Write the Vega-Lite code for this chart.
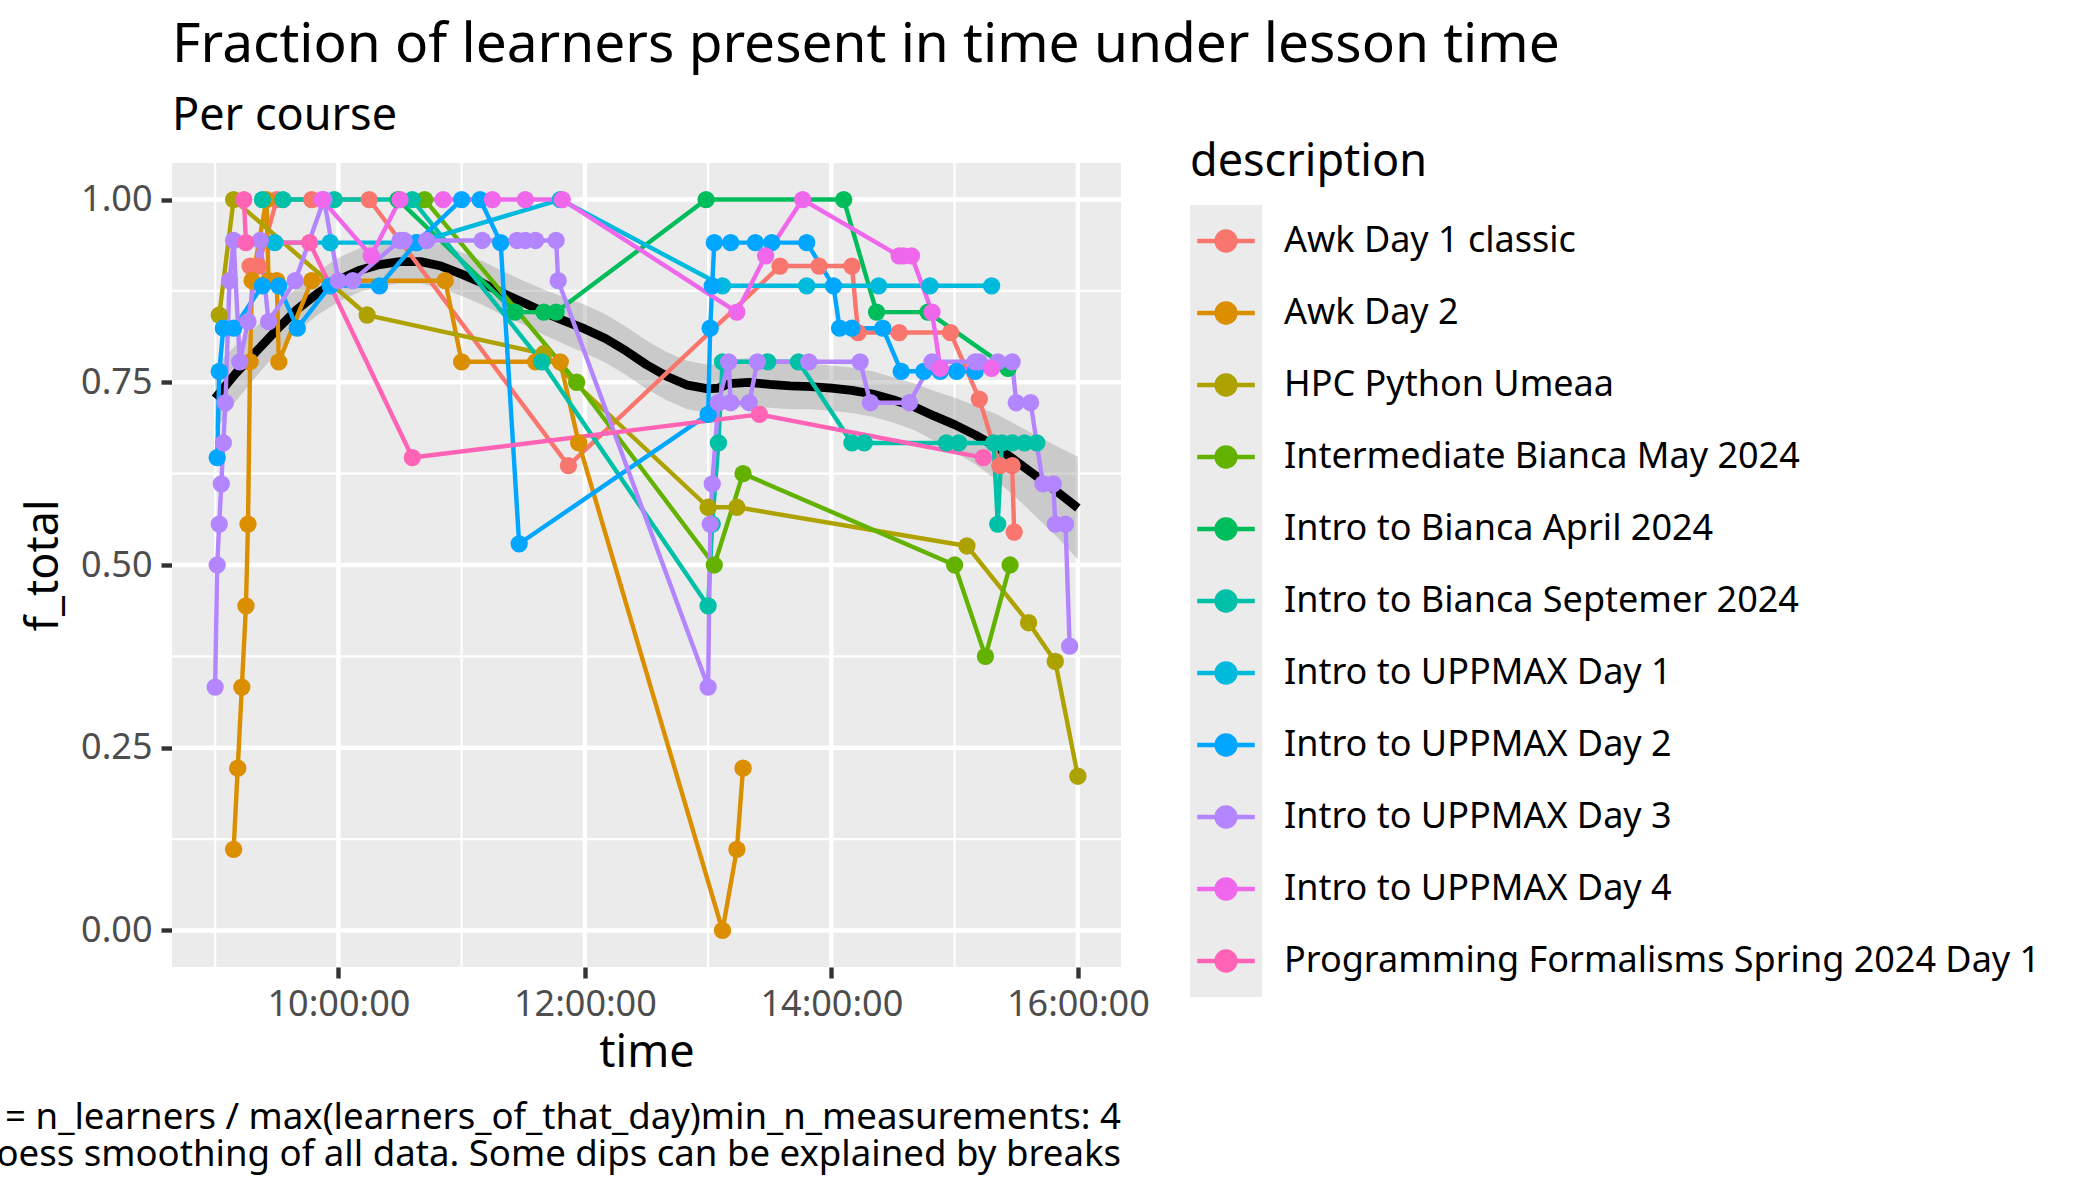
{
  "$schema": "https://vega.github.io/schema/vega-lite/v6.json",
  "width": 949,
  "height": 804,
  "autosize": {"type": "none"},
  "padding": {"left": 172, "top": 163, "right": 979, "bottom": 233},
  "background": "white",
  "title": {
    "text": "Fraction of learners present in time under lesson time",
    "subtitle": "Per course",
    "anchor": "start",
    "frame": "group",
    "font": "Noto Sans",
    "fontSize": 55,
    "fontWeight": "normal",
    "color": "black",
    "subtitleFont": "Noto Sans",
    "subtitleFontSize": 45,
    "subtitleColor": "black",
    "subtitlePadding": 20,
    "offset": 0
  },
  "config": {
    "view": {"fill": "#EBEBEB", "stroke": "transparent"},
    "font": "Noto Sans",
    "axis": {
      "titleFont": "Noto Sans", "titleFontSize": 45, "titleFontWeight": "normal", "titleColor": "black",
      "labelFont": "Noto Sans", "labelFontSize": 36, "labelColor": "#4D4D4D", "labelPadding": 9,
      "tickSize": 11, "tickWidth": 4.4, "tickColor": "#333333",
      "domain": false, "grid": false
    },
    "legend": {
      "orient": "none",
      "legendX": 1018,
      "legendY": -23,
      "direction": "vertical",
      "padding": 0,
      "titleFont": "Noto Sans",
      "titleFontSize": 45,
      "titleFontWeight": "normal",
      "titleColor": "black",
      "titlePadding": 20,
      "titleLimit": 3000,
      "labelFont": "Noto Sans",
      "labelFontSize": 36,
      "labelColor": "black",
      "labelLimit": 3000,
      "rowPadding": 0
    }
  },
  "layer": [
    {
      "data": {"values": [{}]},
      "mark": {"type": "rect", "color": "#EBEBEB"},
      "encoding": {
        "x": {"datum": {"year": 1900, "month": 1, "date": 1, "hours": 8, "minutes": 39}, "type": "temporal",
          "scale": {"domain": [{"year": 1900, "month": 1, "date": 1, "hours": 8, "minutes": 39}, {"year": 1900, "month": 1, "date": 1, "hours": 16, "minutes": 21}], "nice": false},
          "axis": {"values": [{"year": 1900, "month": 1, "date": 1, "hours": 10}, {"year": 1900, "month": 1, "date": 1, "hours": 12}, {"year": 1900, "month": 1, "date": 1, "hours": 14}, {"year": 1900, "month": 1, "date": 1, "hours": 16}], "format": "%H:%M:%S", "title": "time", "titlePadding": 8, "labelFlush": false, "labelOverlap": false}},
        "x2": {"datum": {"year": 1900, "month": 1, "date": 1, "hours": 16, "minutes": 21}},
        "y": {"datum": -0.05, "type": "quantitative",
          "scale": {"domain": [-0.05, 1.05], "nice": false, "zero": false},
          "axis": {"values": [0, 0.25, 0.5, 0.75, 1], "format": ".2f", "title": "f_total", "titlePadding": 14}},
        "y2": {"datum": 1.05}
      }
    },
    {
      "data": {"values": [{"time": "09:00"}, {"time": "11:00"}, {"time": "13:00"}, {"time": "15:00"}], "format": {"parse": {"time": "date:'%H:%M'"}}},
      "mark": {"type": "rule", "color": "white", "strokeWidth": 2.2},
      "encoding": {
        "x": {"field": "time", "type": "temporal",
          "scale": {"domain": [{"year": 1900, "month": 1, "date": 1, "hours": 8, "minutes": 39}, {"year": 1900, "month": 1, "date": 1, "hours": 16, "minutes": 21}], "nice": false},
          "axis": {"values": [{"year": 1900, "month": 1, "date": 1, "hours": 10}, {"year": 1900, "month": 1, "date": 1, "hours": 12}, {"year": 1900, "month": 1, "date": 1, "hours": 14}, {"year": 1900, "month": 1, "date": 1, "hours": 16}], "format": "%H:%M:%S", "title": "time", "titlePadding": 8, "labelFlush": false, "labelOverlap": false}}
      }
    },
    {
      "data": {"values": [{"f_total": 0.125}, {"f_total": 0.375}, {"f_total": 0.625}, {"f_total": 0.875}]},
      "mark": {"type": "rule", "color": "white", "strokeWidth": 2.2},
      "encoding": {
        "y": {"field": "f_total", "type": "quantitative",
          "scale": {"domain": [-0.05, 1.05], "nice": false, "zero": false},
          "axis": {"values": [0, 0.25, 0.5, 0.75, 1], "format": ".2f", "title": "f_total", "titlePadding": 14}}
      }
    },
    {
      "data": {"values": [{"time": "10:00"}, {"time": "12:00"}, {"time": "14:00"}, {"time": "16:00"}], "format": {"parse": {"time": "date:'%H:%M'"}}},
      "mark": {"type": "rule", "color": "white", "strokeWidth": 4.4},
      "encoding": {
        "x": {"field": "time", "type": "temporal",
          "scale": {"domain": [{"year": 1900, "month": 1, "date": 1, "hours": 8, "minutes": 39}, {"year": 1900, "month": 1, "date": 1, "hours": 16, "minutes": 21}], "nice": false},
          "axis": {"values": [{"year": 1900, "month": 1, "date": 1, "hours": 10}, {"year": 1900, "month": 1, "date": 1, "hours": 12}, {"year": 1900, "month": 1, "date": 1, "hours": 14}, {"year": 1900, "month": 1, "date": 1, "hours": 16}], "format": "%H:%M:%S", "title": "time", "titlePadding": 8, "labelFlush": false, "labelOverlap": false}}
      }
    },
    {
      "data": {"values": [{"f_total": 0}, {"f_total": 0.25}, {"f_total": 0.5}, {"f_total": 0.75}, {"f_total": 1}]},
      "mark": {"type": "rule", "color": "white", "strokeWidth": 4.4},
      "encoding": {
        "y": {"field": "f_total", "type": "quantitative",
          "scale": {"domain": [-0.05, 1.05], "nice": false, "zero": false},
          "axis": {"values": [0, 0.25, 0.5, 0.75, 1], "format": ".2f", "title": "f_total", "titlePadding": 14}}
      }
    },
    {
      "data": {
        "values": [
          {"time": "09:00", "fit": 0.728, "lower": 0.683, "upper": 0.773},
          {"time": "09:10", "fit": 0.762, "lower": 0.724, "upper": 0.800},
          {"time": "09:20", "fit": 0.792, "lower": 0.758, "upper": 0.826},
          {"time": "09:30", "fit": 0.822, "lower": 0.791, "upper": 0.853},
          {"time": "09:40", "fit": 0.850, "lower": 0.820, "upper": 0.880},
          {"time": "09:50", "fit": 0.872, "lower": 0.842, "upper": 0.902},
          {"time": "10:00", "fit": 0.890, "lower": 0.860, "upper": 0.920},
          {"time": "10:10", "fit": 0.903, "lower": 0.873, "upper": 0.933},
          {"time": "10:20", "fit": 0.911, "lower": 0.881, "upper": 0.941},
          {"time": "10:30", "fit": 0.915, "lower": 0.885, "upper": 0.945},
          {"time": "10:40", "fit": 0.915, "lower": 0.885, "upper": 0.945},
          {"time": "10:50", "fit": 0.909, "lower": 0.879, "upper": 0.939},
          {"time": "11:00", "fit": 0.898, "lower": 0.868, "upper": 0.928},
          {"time": "11:10", "fit": 0.886, "lower": 0.856, "upper": 0.916},
          {"time": "11:20", "fit": 0.872, "lower": 0.842, "upper": 0.902},
          {"time": "11:30", "fit": 0.859, "lower": 0.829, "upper": 0.889},
          {"time": "11:40", "fit": 0.846, "lower": 0.815, "upper": 0.877},
          {"time": "11:50", "fit": 0.834, "lower": 0.802, "upper": 0.866},
          {"time": "12:00", "fit": 0.823, "lower": 0.790, "upper": 0.856},
          {"time": "12:10", "fit": 0.810, "lower": 0.777, "upper": 0.843},
          {"time": "12:20", "fit": 0.793, "lower": 0.760, "upper": 0.826},
          {"time": "12:30", "fit": 0.774, "lower": 0.741, "upper": 0.807},
          {"time": "12:40", "fit": 0.758, "lower": 0.725, "upper": 0.791},
          {"time": "12:50", "fit": 0.746, "lower": 0.713, "upper": 0.779},
          {"time": "13:00", "fit": 0.741, "lower": 0.708, "upper": 0.774},
          {"time": "13:05", "fit": 0.742, "lower": 0.709, "upper": 0.775},
          {"time": "13:10", "fit": 0.748, "lower": 0.715, "upper": 0.781},
          {"time": "13:20", "fit": 0.750, "lower": 0.717, "upper": 0.783},
          {"time": "13:30", "fit": 0.747, "lower": 0.715, "upper": 0.779},
          {"time": "13:40", "fit": 0.745, "lower": 0.713, "upper": 0.777},
          {"time": "13:50", "fit": 0.744, "lower": 0.713, "upper": 0.775},
          {"time": "14:00", "fit": 0.742, "lower": 0.711, "upper": 0.773},
          {"time": "14:10", "fit": 0.739, "lower": 0.708, "upper": 0.770},
          {"time": "14:20", "fit": 0.734, "lower": 0.703, "upper": 0.765},
          {"time": "14:30", "fit": 0.726, "lower": 0.695, "upper": 0.757},
          {"time": "14:40", "fit": 0.717, "lower": 0.685, "upper": 0.749},
          {"time": "14:50", "fit": 0.704, "lower": 0.670, "upper": 0.738},
          {"time": "15:00", "fit": 0.692, "lower": 0.655, "upper": 0.729},
          {"time": "15:10", "fit": 0.678, "lower": 0.638, "upper": 0.718},
          {"time": "15:20", "fit": 0.662, "lower": 0.617, "upper": 0.707},
          {"time": "15:30", "fit": 0.642, "lower": 0.592, "upper": 0.692},
          {"time": "15:40", "fit": 0.621, "lower": 0.565, "upper": 0.677},
          {"time": "15:50", "fit": 0.600, "lower": 0.538, "upper": 0.662},
          {"time": "16:00", "fit": 0.578, "lower": 0.508, "upper": 0.648}
        ],
        "format": {"parse": {"time": "date:'%H:%M'"}}
      },
      "layer": [
        {
          "mark": {"type": "area", "color": "#999999", "opacity": 0.4},
          "encoding": {
            "x": {"field": "time", "type": "temporal",
              "scale": {"domain": [{"year": 1900, "month": 1, "date": 1, "hours": 8, "minutes": 39}, {"year": 1900, "month": 1, "date": 1, "hours": 16, "minutes": 21}], "nice": false},
              "axis": {"values": [{"year": 1900, "month": 1, "date": 1, "hours": 10}, {"year": 1900, "month": 1, "date": 1, "hours": 12}, {"year": 1900, "month": 1, "date": 1, "hours": 14}, {"year": 1900, "month": 1, "date": 1, "hours": 16}], "format": "%H:%M:%S", "title": "time", "titlePadding": 8, "labelFlush": false, "labelOverlap": false}},
            "y": {"field": "lower", "type": "quantitative",
              "scale": {"domain": [-0.05, 1.05], "nice": false, "zero": false},
              "axis": {"values": [0, 0.25, 0.5, 0.75, 1], "format": ".2f", "title": "f_total", "titlePadding": 14}},
            "y2": {"field": "upper"}
          }
        },
        {
          "mark": {"type": "line", "color": "black", "strokeWidth": 8.8, "strokeJoin": "round"},
          "encoding": {
            "x": {"field": "time", "type": "temporal",
              "scale": {"domain": [{"year": 1900, "month": 1, "date": 1, "hours": 8, "minutes": 39}, {"year": 1900, "month": 1, "date": 1, "hours": 16, "minutes": 21}], "nice": false},
              "axis": {"values": [{"year": 1900, "month": 1, "date": 1, "hours": 10}, {"year": 1900, "month": 1, "date": 1, "hours": 12}, {"year": 1900, "month": 1, "date": 1, "hours": 14}, {"year": 1900, "month": 1, "date": 1, "hours": 16}], "format": "%H:%M:%S", "title": "time", "titlePadding": 8, "labelFlush": false, "labelOverlap": false}},
            "y": {"field": "fit", "type": "quantitative",
              "scale": {"domain": [-0.05, 1.05], "nice": false, "zero": false},
              "axis": {"values": [0, 0.25, 0.5, 0.75, 1], "format": ".2f", "title": "f_total", "titlePadding": 14}}
          }
        }
      ]
    },
    {
      "data": {
        "values": [
          {"description": "Awk Day 1 classic", "time": "09:17", "f_total": 0.909},
          {"description": "Awk Day 1 classic", "time": "09:21", "f_total": 0.909},
          {"description": "Awk Day 1 classic", "time": "09:30", "f_total": 1},
          {"description": "Awk Day 1 classic", "time": "09:47", "f_total": 1},
          {"description": "Awk Day 1 classic", "time": "10:15", "f_total": 1},
          {"description": "Awk Day 1 classic", "time": "11:52", "f_total": 0.636},
          {"description": "Awk Day 1 classic", "time": "13:35", "f_total": 0.909},
          {"description": "Awk Day 1 classic", "time": "13:54", "f_total": 0.909},
          {"description": "Awk Day 1 classic", "time": "14:10", "f_total": 0.909},
          {"description": "Awk Day 1 classic", "time": "14:13", "f_total": 0.818},
          {"description": "Awk Day 1 classic", "time": "14:33", "f_total": 0.818},
          {"description": "Awk Day 1 classic", "time": "14:58", "f_total": 0.818},
          {"description": "Awk Day 1 classic", "time": "15:12", "f_total": 0.727},
          {"description": "Awk Day 1 classic", "time": "15:22", "f_total": 0.636},
          {"description": "Awk Day 1 classic", "time": "15:28", "f_total": 0.636},
          {"description": "Awk Day 1 classic", "time": "15:29", "f_total": 0.545},
          {"description": "Awk Day 2", "time": "09:09", "f_total": 0.111},
          {"description": "Awk Day 2", "time": "09:11", "f_total": 0.222},
          {"description": "Awk Day 2", "time": "09:13", "f_total": 0.333},
          {"description": "Awk Day 2", "time": "09:15", "f_total": 0.444},
          {"description": "Awk Day 2", "time": "09:16", "f_total": 0.556},
          {"description": "Awk Day 2", "time": "09:17", "f_total": 0.778},
          {"description": "Awk Day 2", "time": "09:18", "f_total": 0.889},
          {"description": "Awk Day 2", "time": "09:25", "f_total": 1},
          {"description": "Awk Day 2", "time": "09:26", "f_total": 0.889},
          {"description": "Awk Day 2", "time": "09:30", "f_total": 0.889},
          {"description": "Awk Day 2", "time": "09:31", "f_total": 0.778},
          {"description": "Awk Day 2", "time": "09:47", "f_total": 0.889},
          {"description": "Awk Day 2", "time": "10:52", "f_total": 0.889},
          {"description": "Awk Day 2", "time": "11:00", "f_total": 0.778},
          {"description": "Awk Day 2", "time": "11:36", "f_total": 0.778},
          {"description": "Awk Day 2", "time": "11:48", "f_total": 0.778},
          {"description": "Awk Day 2", "time": "11:57", "f_total": 0.667},
          {"description": "Awk Day 2", "time": "13:07", "f_total": 0},
          {"description": "Awk Day 2", "time": "13:14", "f_total": 0.111},
          {"description": "Awk Day 2", "time": "13:17", "f_total": 0.222},
          {"description": "HPC Python Umeaa", "time": "09:02", "f_total": 0.842},
          {"description": "HPC Python Umeaa", "time": "09:09", "f_total": 1},
          {"description": "HPC Python Umeaa", "time": "10:14", "f_total": 0.842},
          {"description": "HPC Python Umeaa", "time": "11:40", "f_total": 0.789},
          {"description": "HPC Python Umeaa", "time": "13:00", "f_total": 0.579},
          {"description": "HPC Python Umeaa", "time": "13:14", "f_total": 0.579},
          {"description": "HPC Python Umeaa", "time": "15:06", "f_total": 0.526},
          {"description": "HPC Python Umeaa", "time": "15:36", "f_total": 0.421},
          {"description": "HPC Python Umeaa", "time": "15:49", "f_total": 0.368},
          {"description": "HPC Python Umeaa", "time": "16:00", "f_total": 0.211},
          {"description": "Intermediate Bianca May 2024", "time": "10:42", "f_total": 1},
          {"description": "Intermediate Bianca May 2024", "time": "11:56", "f_total": 0.75},
          {"description": "Intermediate Bianca May 2024", "time": "13:03", "f_total": 0.5},
          {"description": "Intermediate Bianca May 2024", "time": "13:17", "f_total": 0.625},
          {"description": "Intermediate Bianca May 2024", "time": "15:00", "f_total": 0.5},
          {"description": "Intermediate Bianca May 2024", "time": "15:15", "f_total": 0.375},
          {"description": "Intermediate Bianca May 2024", "time": "15:27", "f_total": 0.5},
          {"description": "Intro to Bianca April 2024", "time": "10:29", "f_total": 1},
          {"description": "Intro to Bianca April 2024", "time": "11:26", "f_total": 0.846},
          {"description": "Intro to Bianca April 2024", "time": "11:40", "f_total": 0.846},
          {"description": "Intro to Bianca April 2024", "time": "11:46", "f_total": 0.846},
          {"description": "Intro to Bianca April 2024", "time": "12:59", "f_total": 1},
          {"description": "Intro to Bianca April 2024", "time": "14:06", "f_total": 1},
          {"description": "Intro to Bianca April 2024", "time": "14:22", "f_total": 0.846},
          {"description": "Intro to Bianca April 2024", "time": "14:47", "f_total": 0.846},
          {"description": "Intro to Bianca April 2024", "time": "15:26", "f_total": 0.769},
          {"description": "Intro to Bianca Septemer 2024", "time": "09:23", "f_total": 1},
          {"description": "Intro to Bianca Septemer 2024", "time": "09:33", "f_total": 1},
          {"description": "Intro to Bianca Septemer 2024", "time": "09:58", "f_total": 1},
          {"description": "Intro to Bianca Septemer 2024", "time": "10:36", "f_total": 1},
          {"description": "Intro to Bianca Septemer 2024", "time": "11:39", "f_total": 0.778},
          {"description": "Intro to Bianca Septemer 2024", "time": "13:00", "f_total": 0.444},
          {"description": "Intro to Bianca Septemer 2024", "time": "13:02", "f_total": 0.556},
          {"description": "Intro to Bianca Septemer 2024", "time": "13:05", "f_total": 0.667},
          {"description": "Intro to Bianca Septemer 2024", "time": "13:07", "f_total": 0.778},
          {"description": "Intro to Bianca Septemer 2024", "time": "13:29", "f_total": 0.778},
          {"description": "Intro to Bianca Septemer 2024", "time": "13:44", "f_total": 0.778},
          {"description": "Intro to Bianca Septemer 2024", "time": "14:10", "f_total": 0.667},
          {"description": "Intro to Bianca Septemer 2024", "time": "14:16", "f_total": 0.667},
          {"description": "Intro to Bianca Septemer 2024", "time": "14:56", "f_total": 0.667},
          {"description": "Intro to Bianca Septemer 2024", "time": "15:02", "f_total": 0.667},
          {"description": "Intro to Bianca Septemer 2024", "time": "15:19", "f_total": 0.667},
          {"description": "Intro to Bianca Septemer 2024", "time": "15:21", "f_total": 0.556},
          {"description": "Intro to Bianca Septemer 2024", "time": "15:23", "f_total": 0.667},
          {"description": "Intro to Bianca Septemer 2024", "time": "15:28", "f_total": 0.667},
          {"description": "Intro to Bianca Septemer 2024", "time": "15:34", "f_total": 0.667},
          {"description": "Intro to Bianca Septemer 2024", "time": "15:40", "f_total": 0.667},
          {"description": "Intro to UPPMAX Day 1", "time": "09:29", "f_total": 0.941},
          {"description": "Intro to UPPMAX Day 1", "time": "09:56", "f_total": 0.941},
          {"description": "Intro to UPPMAX Day 1", "time": "10:38", "f_total": 0.941},
          {"description": "Intro to UPPMAX Day 1", "time": "11:48", "f_total": 1},
          {"description": "Intro to UPPMAX Day 1", "time": "13:07", "f_total": 0.882},
          {"description": "Intro to UPPMAX Day 1", "time": "13:48", "f_total": 0.882},
          {"description": "Intro to UPPMAX Day 1", "time": "14:23", "f_total": 0.882},
          {"description": "Intro to UPPMAX Day 1", "time": "14:48", "f_total": 0.882},
          {"description": "Intro to UPPMAX Day 1", "time": "15:18", "f_total": 0.882},
          {"description": "Intro to UPPMAX Day 2", "time": "09:01", "f_total": 0.647},
          {"description": "Intro to UPPMAX Day 2", "time": "09:02", "f_total": 0.765},
          {"description": "Intro to UPPMAX Day 2", "time": "09:04", "f_total": 0.824},
          {"description": "Intro to UPPMAX Day 2", "time": "09:09", "f_total": 0.824},
          {"description": "Intro to UPPMAX Day 2", "time": "09:23", "f_total": 0.882},
          {"description": "Intro to UPPMAX Day 2", "time": "09:31", "f_total": 0.882},
          {"description": "Intro to UPPMAX Day 2", "time": "09:40", "f_total": 0.824},
          {"description": "Intro to UPPMAX Day 2", "time": "09:56", "f_total": 0.882},
          {"description": "Intro to UPPMAX Day 2", "time": "10:20", "f_total": 0.882},
          {"description": "Intro to UPPMAX Day 2", "time": "10:38", "f_total": 0.941},
          {"description": "Intro to UPPMAX Day 2", "time": "11:00", "f_total": 1},
          {"description": "Intro to UPPMAX Day 2", "time": "11:09", "f_total": 1},
          {"description": "Intro to UPPMAX Day 2", "time": "11:19", "f_total": 0.941},
          {"description": "Intro to UPPMAX Day 2", "time": "11:28", "f_total": 0.529},
          {"description": "Intro to UPPMAX Day 2", "time": "13:00", "f_total": 0.706},
          {"description": "Intro to UPPMAX Day 2", "time": "13:01", "f_total": 0.824},
          {"description": "Intro to UPPMAX Day 2", "time": "13:02", "f_total": 0.882},
          {"description": "Intro to UPPMAX Day 2", "time": "13:03", "f_total": 0.941},
          {"description": "Intro to UPPMAX Day 2", "time": "13:11", "f_total": 0.941},
          {"description": "Intro to UPPMAX Day 2", "time": "13:23", "f_total": 0.941},
          {"description": "Intro to UPPMAX Day 2", "time": "13:31", "f_total": 0.941},
          {"description": "Intro to UPPMAX Day 2", "time": "13:48", "f_total": 0.941},
          {"description": "Intro to UPPMAX Day 2", "time": "14:01", "f_total": 0.882},
          {"description": "Intro to UPPMAX Day 2", "time": "14:04", "f_total": 0.824},
          {"description": "Intro to UPPMAX Day 2", "time": "14:10", "f_total": 0.824},
          {"description": "Intro to UPPMAX Day 2", "time": "14:25", "f_total": 0.824},
          {"description": "Intro to UPPMAX Day 2", "time": "14:34", "f_total": 0.765},
          {"description": "Intro to UPPMAX Day 2", "time": "14:45", "f_total": 0.765},
          {"description": "Intro to UPPMAX Day 2", "time": "14:53", "f_total": 0.765},
          {"description": "Intro to UPPMAX Day 2", "time": "15:01", "f_total": 0.765},
          {"description": "Intro to UPPMAX Day 2", "time": "15:10", "f_total": 0.765},
          {"description": "Intro to UPPMAX Day 3", "time": "09:00", "f_total": 0.333},
          {"description": "Intro to UPPMAX Day 3", "time": "09:01", "f_total": 0.5},
          {"description": "Intro to UPPMAX Day 3", "time": "09:02", "f_total": 0.556},
          {"description": "Intro to UPPMAX Day 3", "time": "09:03", "f_total": 0.611},
          {"description": "Intro to UPPMAX Day 3", "time": "09:04", "f_total": 0.667},
          {"description": "Intro to UPPMAX Day 3", "time": "09:05", "f_total": 0.722},
          {"description": "Intro to UPPMAX Day 3", "time": "09:07", "f_total": 0.889},
          {"description": "Intro to UPPMAX Day 3", "time": "09:09", "f_total": 0.944},
          {"description": "Intro to UPPMAX Day 3", "time": "09:12", "f_total": 0.778},
          {"description": "Intro to UPPMAX Day 3", "time": "09:16", "f_total": 0.833},
          {"description": "Intro to UPPMAX Day 3", "time": "09:22", "f_total": 0.944},
          {"description": "Intro to UPPMAX Day 3", "time": "09:26", "f_total": 0.833},
          {"description": "Intro to UPPMAX Day 3", "time": "09:39", "f_total": 0.889},
          {"description": "Intro to UPPMAX Day 3", "time": "09:53", "f_total": 1},
          {"description": "Intro to UPPMAX Day 3", "time": "10:00", "f_total": 0.889},
          {"description": "Intro to UPPMAX Day 3", "time": "10:07", "f_total": 0.889},
          {"description": "Intro to UPPMAX Day 3", "time": "10:30", "f_total": 0.944},
          {"description": "Intro to UPPMAX Day 3", "time": "10:32", "f_total": 0.944},
          {"description": "Intro to UPPMAX Day 3", "time": "10:43", "f_total": 0.944},
          {"description": "Intro to UPPMAX Day 3", "time": "11:10", "f_total": 0.944},
          {"description": "Intro to UPPMAX Day 3", "time": "11:27", "f_total": 0.944},
          {"description": "Intro to UPPMAX Day 3", "time": "11:31", "f_total": 0.944},
          {"description": "Intro to UPPMAX Day 3", "time": "11:36", "f_total": 0.944},
          {"description": "Intro to UPPMAX Day 3", "time": "11:46", "f_total": 0.944},
          {"description": "Intro to UPPMAX Day 3", "time": "11:47", "f_total": 0.889},
          {"description": "Intro to UPPMAX Day 3", "time": "13:00", "f_total": 0.333},
          {"description": "Intro to UPPMAX Day 3", "time": "13:01", "f_total": 0.556},
          {"description": "Intro to UPPMAX Day 3", "time": "13:02", "f_total": 0.611},
          {"description": "Intro to UPPMAX Day 3", "time": "13:05", "f_total": 0.722},
          {"description": "Intro to UPPMAX Day 3", "time": "13:10", "f_total": 0.778},
          {"description": "Intro to UPPMAX Day 3", "time": "13:11", "f_total": 0.722},
          {"description": "Intro to UPPMAX Day 3", "time": "13:20", "f_total": 0.722},
          {"description": "Intro to UPPMAX Day 3", "time": "13:24", "f_total": 0.778},
          {"description": "Intro to UPPMAX Day 3", "time": "13:49", "f_total": 0.778},
          {"description": "Intro to UPPMAX Day 3", "time": "14:14", "f_total": 0.778},
          {"description": "Intro to UPPMAX Day 3", "time": "14:19", "f_total": 0.722},
          {"description": "Intro to UPPMAX Day 3", "time": "14:38", "f_total": 0.722},
          {"description": "Intro to UPPMAX Day 3", "time": "14:49", "f_total": 0.778},
          {"description": "Intro to UPPMAX Day 3", "time": "15:10", "f_total": 0.778},
          {"description": "Intro to UPPMAX Day 3", "time": "15:12", "f_total": 0.778},
          {"description": "Intro to UPPMAX Day 3", "time": "15:21", "f_total": 0.778},
          {"description": "Intro to UPPMAX Day 3", "time": "15:28", "f_total": 0.778},
          {"description": "Intro to UPPMAX Day 3", "time": "15:30", "f_total": 0.722},
          {"description": "Intro to UPPMAX Day 3", "time": "15:37", "f_total": 0.722},
          {"description": "Intro to UPPMAX Day 3", "time": "15:43", "f_total": 0.611},
          {"description": "Intro to UPPMAX Day 3", "time": "15:48", "f_total": 0.611},
          {"description": "Intro to UPPMAX Day 3", "time": "15:49", "f_total": 0.556},
          {"description": "Intro to UPPMAX Day 3", "time": "15:54", "f_total": 0.556},
          {"description": "Intro to UPPMAX Day 3", "time": "15:56", "f_total": 0.389},
          {"description": "Intro to UPPMAX Day 4", "time": "09:52", "f_total": 1},
          {"description": "Intro to UPPMAX Day 4", "time": "10:16", "f_total": 0.923},
          {"description": "Intro to UPPMAX Day 4", "time": "10:30", "f_total": 1},
          {"description": "Intro to UPPMAX Day 4", "time": "10:51", "f_total": 1},
          {"description": "Intro to UPPMAX Day 4", "time": "11:15", "f_total": 1},
          {"description": "Intro to UPPMAX Day 4", "time": "11:31", "f_total": 1},
          {"description": "Intro to UPPMAX Day 4", "time": "11:49", "f_total": 1},
          {"description": "Intro to UPPMAX Day 4", "time": "13:14", "f_total": 0.846},
          {"description": "Intro to UPPMAX Day 4", "time": "13:28", "f_total": 0.923},
          {"description": "Intro to UPPMAX Day 4", "time": "13:46", "f_total": 1},
          {"description": "Intro to UPPMAX Day 4", "time": "14:33", "f_total": 0.923},
          {"description": "Intro to UPPMAX Day 4", "time": "14:35", "f_total": 0.923},
          {"description": "Intro to UPPMAX Day 4", "time": "14:39", "f_total": 0.923},
          {"description": "Intro to UPPMAX Day 4", "time": "14:49", "f_total": 0.846},
          {"description": "Intro to UPPMAX Day 4", "time": "14:53", "f_total": 0.769},
          {"description": "Intro to UPPMAX Day 4", "time": "15:18", "f_total": 0.769},
          {"description": "Programming Formalisms Spring 2024 Day 1", "time": "09:14", "f_total": 1},
          {"description": "Programming Formalisms Spring 2024 Day 1", "time": "09:15", "f_total": 0.941},
          {"description": "Programming Formalisms Spring 2024 Day 1", "time": "09:46", "f_total": 0.941},
          {"description": "Programming Formalisms Spring 2024 Day 1", "time": "10:36", "f_total": 0.647},
          {"description": "Programming Formalisms Spring 2024 Day 1", "time": "13:25", "f_total": 0.706},
          {"description": "Programming Formalisms Spring 2024 Day 1", "time": "15:14", "f_total": 0.647}
        ],
        "format": {"parse": {"time": "date:'%H:%M'"}}
      },
      "layer": [
        {
          "mark": {"type": "line", "strokeWidth": 4.4, "strokeJoin": "round", "strokeCap": "butt"},
          "encoding": {
            "x": {"field": "time", "type": "temporal",
              "scale": {"domain": [{"year": 1900, "month": 1, "date": 1, "hours": 8, "minutes": 39}, {"year": 1900, "month": 1, "date": 1, "hours": 16, "minutes": 21}], "nice": false},
              "axis": {"values": [{"year": 1900, "month": 1, "date": 1, "hours": 10}, {"year": 1900, "month": 1, "date": 1, "hours": 12}, {"year": 1900, "month": 1, "date": 1, "hours": 14}, {"year": 1900, "month": 1, "date": 1, "hours": 16}], "format": "%H:%M:%S", "title": "time", "titlePadding": 8, "labelFlush": false, "labelOverlap": false}},
            "y": {"field": "f_total", "type": "quantitative",
              "scale": {"domain": [-0.05, 1.05], "nice": false, "zero": false},
              "axis": {"values": [0, 0.25, 0.5, 0.75, 1], "format": ".2f", "title": "f_total", "titlePadding": 14}},
            "color": {
              "field": "description", "type": "nominal",
              "scale": {
                "domain": ["Awk Day 1 classic", "Awk Day 2", "HPC Python Umeaa", "Intermediate Bianca May 2024", "Intro to Bianca April 2024", "Intro to Bianca Septemer 2024", "Intro to UPPMAX Day 1", "Intro to UPPMAX Day 2", "Intro to UPPMAX Day 3", "Intro to UPPMAX Day 4", "Programming Formalisms Spring 2024 Day 1"],
                "range": ["#F8766D", "#DB8E00", "#AEA200", "#64B200", "#00BD5C", "#00C1A7", "#00BADE", "#00A6FF", "#B385FF", "#EF67EB", "#FF63B6"]
              },
              "legend": {
                "title": "description",
                "zindex": 1,
                "labelOffset": 22,
                "symbolType": "M0,-0.793M0,0.793M-0.852,0H0.852M-0.28,0A0.28,0.28,0,1,0,0.28,0A0.28,0.28,0,1,0,-0.28,0Z",
                "symbolSize": 4563,
                "symbolStrokeWidth": 4.4
              }
            }
          }
        },
        {
          "mark": {"type": "point", "filled": true, "size": 300, "opacity": 1, "strokeWidth": 0},
          "encoding": {
            "x": {"field": "time", "type": "temporal",
              "scale": {"domain": [{"year": 1900, "month": 1, "date": 1, "hours": 8, "minutes": 39}, {"year": 1900, "month": 1, "date": 1, "hours": 16, "minutes": 21}], "nice": false},
              "axis": {"values": [{"year": 1900, "month": 1, "date": 1, "hours": 10}, {"year": 1900, "month": 1, "date": 1, "hours": 12}, {"year": 1900, "month": 1, "date": 1, "hours": 14}, {"year": 1900, "month": 1, "date": 1, "hours": 16}], "format": "%H:%M:%S", "title": "time", "titlePadding": 8, "labelFlush": false, "labelOverlap": false}},
            "y": {"field": "f_total", "type": "quantitative",
              "scale": {"domain": [-0.05, 1.05], "nice": false, "zero": false},
              "axis": {"values": [0, 0.25, 0.5, 0.75, 1], "format": ".2f", "title": "f_total", "titlePadding": 14}},
            "color": {
              "field": "description", "type": "nominal",
              "legend": {
                "title": "description",
                "zindex": 1,
                "labelOffset": 22,
                "symbolType": "M0,-0.793M0,0.793M-0.852,0H0.852M-0.28,0A0.28,0.28,0,1,0,0.28,0A0.28,0.28,0,1,0,-0.28,0Z",
                "symbolSize": 4563,
                "symbolStrokeWidth": 4.4
              }
            }
          }
        }
      ]
    },
    {
      "data": {
        "values": [
          {"course": "Awk Day 1 classic"}, {"course": "Awk Day 2"}, {"course": "HPC Python Umeaa"}, {"course": "Intermediate Bianca May 2024"}, {"course": "Intro to Bianca April 2024"}, {"course": "Intro to Bianca Septemer 2024"}, {"course": "Intro to UPPMAX Day 1"}, {"course": "Intro to UPPMAX Day 2"}, {"course": "Intro to UPPMAX Day 3"}, {"course": "Intro to UPPMAX Day 4"}, {"course": "Programming Formalisms Spring 2024 Day 1"}
        ]
      },
      "mark": {"type": "point", "filled": true, "opacity": 0, "color": "#EBEBEB"},
      "encoding": {
        "shape": {
          "field": "course", "type": "nominal",
          "scale": {"range": ["square"]},
          "legend": {
            "title": "description",
            "titleOpacity": 0,
            "labelOpacity": 0,
            "zindex": 0,
            "symbolType": "square",
            "symbolSize": 5184,
            "symbolStrokeWidth": 0,
            "symbolOpacity": 1
          }
        }
      }
    },
    {
      "data": {"values": [{}]},
      "mark": {
        "type": "text",
        "text": ["f_total = n_learners / max(learners_of_that_day)min_n_measurements: 4", "Black line: loess smoothing of all data. Some dips can be explained by breaks"],
        "align": "right",
        "baseline": "alphabetic",
        "dy": 162,
        "lineHeight": 37,
        "font": "Noto Sans",
        "fontSize": 36.6,
        "color": "black"
      },
      "encoding": {
        "x": {"value": "width"},
        "y": {"value": "height"}
      }
    }
  ]
}
